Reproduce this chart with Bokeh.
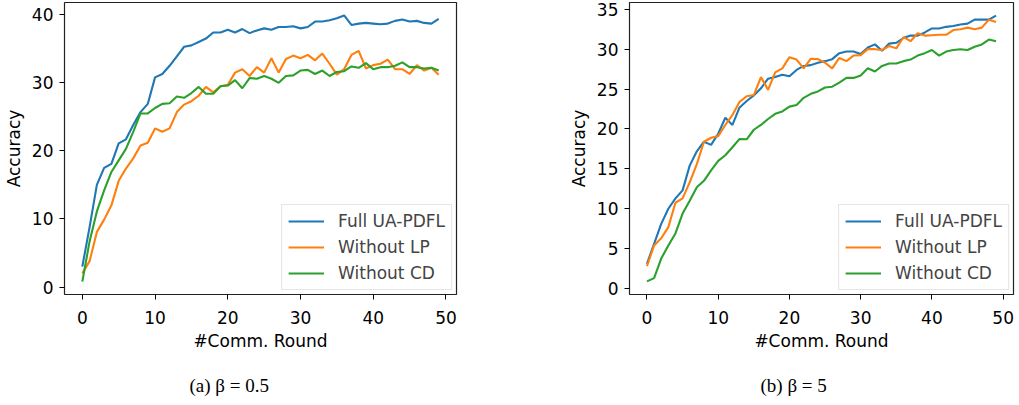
from bokeh.plotting import figure
from bokeh.layouts import row
from bokeh.models import Legend, LegendItem, FixedTicker, Title, Range1d
from bokeh.embed import file_html
from bokeh.resources import INLINE

rounds = list(range(50))
series_names = ["Full UA-PDFL", "Without LP", "Without CD"]
colors = ["#1f77b4", "#ff7f0e", "#2ca02c"]

left_full = [3.0, 8.8, 15.0, 17.5, 18.1, 21.1, 21.7, 23.8, 25.7, 26.9,
             30.8, 31.3, 32.5, 33.9, 35.3, 35.5, 36.0, 36.5, 37.4, 37.4,
             37.8, 37.4, 37.9, 37.3, 37.7, 38.0, 37.8, 38.2, 38.2, 38.3,
             38.0, 38.2, 39.0, 39.0, 39.2, 39.5, 39.9, 38.5, 38.7, 38.8,
             38.7, 38.6, 38.7, 39.1, 39.3, 39.0, 39.1, 38.8, 38.7, 39.4]
left_lp = [2.0, 3.8, 8.1, 9.9, 12.0, 15.6, 17.4, 18.9, 20.8, 21.2,
           23.3, 22.8, 23.3, 25.7, 26.8, 27.3, 28.1, 29.4, 28.6, 29.5,
           29.7, 31.5, 32.0, 31.0, 32.3, 31.5, 33.6, 31.5, 33.5, 34.0,
           33.6, 34.1, 33.3, 34.3, 32.8, 31.2, 32.0, 34.1, 34.7, 32.1,
           32.6, 32.8, 33.4, 32.0, 32.0, 31.3, 32.6, 31.8, 32.2, 31.2]
left_cd = [0.8, 6.7, 11.1, 14.2, 16.9, 18.6, 20.3, 22.8, 25.5, 25.5,
           26.3, 26.9, 27.0, 28.0, 27.8, 28.5, 29.4, 28.4, 28.4, 29.5,
           29.6, 30.4, 29.2, 30.7, 30.6, 31.0, 30.6, 30.0, 31.0, 31.1,
           31.8, 31.9, 31.3, 31.8, 31.0, 31.6, 31.7, 32.4, 32.2, 32.9,
           32.0, 32.3, 32.3, 32.5, 33.0, 32.3, 32.3, 32.1, 32.2, 31.8]

right_full = [3.1, 5.6, 8.1, 10.0, 11.3, 12.3, 15.4, 17.2, 18.4, 18.0,
              19.4, 21.4, 20.5, 22.7, 23.5, 24.2, 25.1, 26.3, 26.5, 26.8,
              26.6, 27.4, 27.9, 28.0, 28.3, 28.5, 28.75, 29.5, 29.7, 29.7,
              29.4, 30.2, 30.6, 29.8, 30.7, 30.8, 31.4, 31.7, 31.7, 32.1,
              32.6, 32.6, 32.8, 32.9, 33.1, 33.2, 33.7, 33.7, 33.7, 34.2]
right_lp = [2.8, 5.4, 6.3, 7.7, 10.75, 11.3, 13.3, 15.6, 18.4, 18.9,
            19.1, 20.5, 21.75, 23.4, 24.1, 24.25, 26.5, 24.9, 27.1, 27.6,
            29.0, 28.7, 27.6, 28.8, 28.75, 28.3, 27.6, 28.9, 28.5, 29.2,
            29.25, 30.0, 30.0, 29.9, 30.4, 30.1, 31.5, 31.0, 32.0, 31.7,
            31.75, 31.8, 31.8, 32.4, 32.5, 32.7, 32.5, 32.7, 33.7, 33.4]
right_cd = [0.9, 1.3, 3.75, 5.4, 6.9, 9.4, 11.0, 12.7, 13.5, 14.8,
            16.0, 16.7, 17.7, 18.75, 18.7, 19.9, 20.5, 21.25, 21.9, 22.2,
            22.8, 23.0, 23.9, 24.4, 24.7, 25.2, 25.3, 25.8, 26.4, 26.4,
            26.7, 27.6, 27.2, 27.9, 28.2, 28.2, 28.5, 28.7, 29.2, 29.5,
            29.9, 29.2, 29.7, 29.9, 30.0, 29.9, 30.3, 30.6, 31.2, 31.0]

x_ticks = [0, 10, 20, 30, 40, 50]
left_y_ticks = [0, 10, 20, 30, 40]
right_y_ticks = [0, 5, 10, 15, 20, 25, 30, 35]
x_label = "#Comm. Round"
y_label = "Accuracy"
captions = ["(a) \u03b2 = 0.5", "(b) \u03b2 = 5"]

FONT = "DejaVu Sans"
FS = "17px"


def make_panel(series, y_ticks, y_rng, caption, frame_w, border_r, cap_offset):
    p = figure(frame_width=frame_w, frame_height=292,
               x_range=Range1d(-2.45, 51.45), y_range=Range1d(*y_rng),
               output_backend="svg", toolbar_location=None,
               min_border_left=58, min_border_right=border_r,
               min_border_top=2, min_border_bottom=0)
    p.background_fill_color = "white"
    p.border_fill_color = "white"
    p.xgrid.visible = False
    p.ygrid.visible = False
    p.outline_line_color = "#222222"
    p.outline_line_width = 1.2
    items = []
    for name, ys, c in zip(series_names, series, colors):
        r = p.line(rounds, ys, line_color=c, line_width=2.1)
        items.append(LegendItem(label=name, renderers=[r]))
    for ax in (p.xaxis[0], p.yaxis[0]):
        ax.axis_line_color = None
        ax.major_tick_line_color = "black"
        ax.major_tick_out = 5
        ax.major_tick_in = 0
        ax.minor_tick_line_color = None
        ax.major_label_text_font = FONT
        ax.major_label_text_font_size = FS
        ax.major_label_text_color = "black"
        ax.axis_label_text_font = FONT
        ax.axis_label_text_font_size = FS
        ax.axis_label_text_font_style = "normal"
        ax.axis_label_text_color = "black"
    p.xaxis.ticker = FixedTicker(ticks=x_ticks)
    p.yaxis.ticker = FixedTicker(ticks=y_ticks)
    p.xaxis.axis_label = x_label
    p.yaxis.axis_label = y_label
    p.xaxis.major_label_standoff = 11
    p.yaxis.major_label_standoff = 6
    p.xaxis.axis_label_standoff = 4
    p.yaxis.axis_label_standoff = 5

    leg = Legend(items=items, location="bottom_right")
    leg.label_text_font = FONT
    leg.label_text_font_size = FS
    leg.glyph_width = 36
    leg.glyph_height = 20
    leg.label_height = 20
    leg.label_standoff = 14
    leg.spacing = 6
    leg.padding = 6
    leg.margin = 4
    leg.border_line_color = "#cccccc"
    leg.border_line_width = 1
    leg.background_fill_alpha = 0.8
    p.add_layout(leg)

    t = Title(text=caption, align="left", text_font="Liberation Serif",
              text_font_size="19px", text_font_style="normal",
              text_color="black", offset=cap_offset, standoff=38)
    p.add_layout(t, "below")
    return p


p1 = make_panel([left_full, left_lp, left_cd], left_y_ticks, (-1.1, 41.8),
                captions[0], 392, 109, 125)
p2 = make_panel([right_full, right_lp, right_cd], right_y_ticks, (-0.75, 35.85),
                captions[1], 384, 2, 131)

layout = row(p1, p2)
open("out.html", "w").write(file_html(layout, INLINE))
